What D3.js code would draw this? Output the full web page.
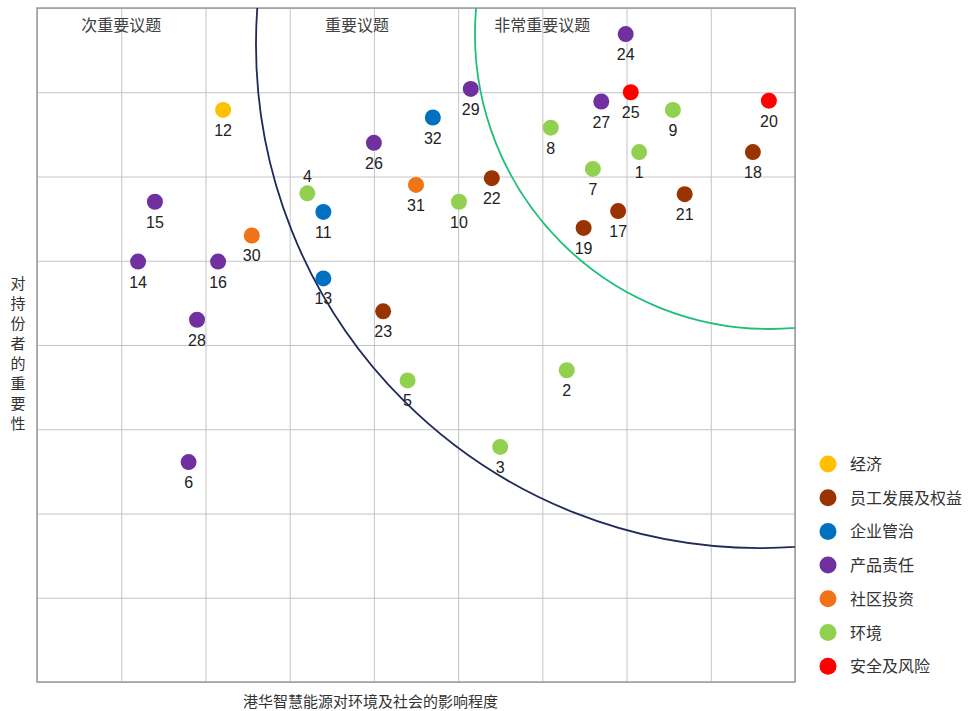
<!DOCTYPE html>
<html>
<head>
<meta charset="utf-8">
<script src="https://cdn.jsdelivr.net/npm/d3@7"></script>
<style>
  body { margin: 0; background: #fff; }
  text { font-family: "Noto Sans CJK SC", "Liberation Sans", Arial, sans-serif; }
  .num { font-family: "Liberation Sans", Arial, sans-serif; }
</style>
</head>
<body>
<div id="container"></div>
<script>
// issue ids, positions (impact, importance) and category index
const ids = [1, 2, 3, 4, 5, 6, 7, 8, 9, 10, 11, 12, 13, 14, 15, 16,
  17, 18, 19, 20, 21, 22, 23, 24, 25, 26, 27, 28, 29, 30, 31, 32];
const impact = [7.15, 6.29, 5.50, 3.21, 4.40, 1.80, 6.60, 6.10, 7.55, 5.01, 3.40, 2.21, 3.40, 1.20, 1.40, 2.15,
  6.90, 8.50, 6.49, 8.69, 7.69, 5.40, 4.11, 6.99, 7.05, 4.00, 6.70, 1.90, 5.15, 2.55, 4.50, 4.70];
const importance = [6.29, 3.70, 2.79, 5.80, 3.58, 2.61, 6.09, 6.58, 6.79, 5.70, 5.58, 6.79, 4.79, 4.99, 5.70, 4.99,
  5.59, 6.29, 5.39, 6.90, 5.79, 5.98, 4.40, 7.69, 7.00, 6.40, 6.89, 4.30, 7.04, 5.30, 5.90, 6.70];
const category = [5, 5, 5, 5, 5, 3, 5, 5, 5, 5, 2, 0, 2, 3, 3, 3,
  1, 1, 1, 6, 1, 1, 1, 3, 6, 3, 3, 3, 3, 4, 4, 2];
const labelAbove = [4];

const categories = ["经济", "员工发展及权益", "企业管治", "产品责任", "社区投资", "环境", "安全及风险"];
const catColors = ["#FFC000", "#993300", "#0070C0", "#7030A0", "#F07318", "#92D050", "#FF0000"];

const zones = ["次重要议题", "重要议题", "非常重要议题"];
const zoneX = [1.0, 3.8, 6.0];

// threshold arcs: centre (x, y) and radius in data units
const arcs = [
  { cx: 8.58, cy: 7.57, r: 5.98, color: "#1F2A5A" },
  { cx: 8.70, cy: 7.69, r: 3.50, color: "#1FBF7A" }
];

const xLabel = "港华智慧能源对环境及社会的影响程度";
const yLabel = "对持份者的重要性";

const W = 974, H = 711;
const pad = { left: 37, top: 8, right: 179, bottom: 29 };
const pw = W - pad.left - pad.right;
const ph = H - pad.top - pad.bottom;

const x = d3.scaleLinear().domain([0, 9]).range([pad.left, pad.left + pw]);
const y = d3.scaleLinear().domain([0, 8]).range([pad.top + ph, pad.top]);

const svg = d3.select("#container").append("svg")
  .attr("width", W).attr("height", H);

svg.append("defs").append("clipPath").attr("id", "plotclip")
  .append("rect")
  .attr("x", pad.left).attr("y", pad.top).attr("width", pw).attr("height", ph);

// grid
svg.append("g")
  .attr("transform", `translate(0,${pad.top + ph})`)
  .call(d3.axisBottom(x).ticks(9).tickSize(-ph).tickFormat(""))
  .call(g => g.select(".domain").remove())
  .call(g => g.selectAll("line").attr("stroke", "#c4c4c4").attr("stroke-width", 1));

svg.append("g")
  .attr("transform", `translate(${pad.left},0)`)
  .call(d3.axisLeft(y).ticks(8).tickSize(-pw).tickFormat(""))
  .call(g => g.select(".domain").remove())
  .call(g => g.selectAll("line").attr("stroke", "#c4c4c4").attr("stroke-width", 1));

svg.append("rect")
  .attr("x", pad.left).attr("y", pad.top).attr("width", pw).attr("height", ph)
  .attr("fill", "none").attr("stroke", "#9a9a9a").attr("stroke-width", 1.5);

// arcs
const plot = svg.append("g").attr("clip-path", "url(#plotclip)");
arcs.forEach(a => {
  plot.append("ellipse")
    .attr("cx", x(a.cx)).attr("cy", y(a.cy))
    .attr("rx", x(a.r) - x(0)).attr("ry", y(0) - y(a.r))
    .attr("fill", "none").attr("stroke", a.color).attr("stroke-width", 1.8);
});

// zone titles
svg.selectAll(".zone").data(zones).enter().append("text")
  .attr("class", "zone")
  .attr("x", (d, i) => x(zoneX[i]))
  .attr("y", pad.top + 23)
  .attr("text-anchor", "middle")
  .attr("font-size", 16).attr("fill", "#404040")
  .text(d => d);

// points
const pts = ids.map((id, i) => ({ id, x: impact[i], y: importance[i], c: category[i] }));

svg.append("g").selectAll("circle").data(pts).enter().append("circle")
  .attr("cx", d => x(d.x)).attr("cy", d => y(d.y)).attr("r", 8)
  .attr("fill", d => catColors[d.c]);

svg.append("g").selectAll("text").data(pts).enter().append("text")
  .attr("class", "num")
  .attr("x", d => x(d.x))
  .attr("y", d => labelAbove.includes(d.id) ? y(d.y) - 11 : y(d.y) + 26)
  .attr("text-anchor", "middle")
  .attr("font-size", 16).attr("fill", "#222")
  .text(d => d.id);

// axis titles
svg.append("text")
  .attr("x", x(3.96)).attr("y", 707)
  .attr("text-anchor", "middle")
  .attr("font-size", 15).attr("fill", "#333")
  .text(xLabel);

svg.append("g").selectAll("text").data(yLabel.split("")).enter().append("text")
  .attr("x", 18).attr("y", (d, i) => 289 + i * 20)
  .attr("text-anchor", "middle")
  .attr("font-size", 15).attr("fill", "#333")
  .text(d => d);

// legend
const legend = svg.append("g").attr("transform", "translate(828,464)");
const items = legend.selectAll("g").data(categories).enter().append("g")
  .attr("transform", (d, i) => `translate(0,${i * 33.7})`);
items.append("circle").attr("r", 8.5).attr("fill", (d, i) => catColors[i]);
items.append("text").attr("x", 22).attr("y", 6)
  .attr("font-size", 16).attr("fill", "#333")
  .text(d => d);
</script>
</body>
</html>
